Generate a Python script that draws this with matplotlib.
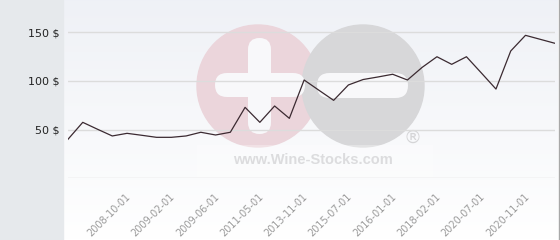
import matplotlib.pyplot as plt
import numpy as np
from matplotlib.patches import Circle, FancyBboxPatch, Rectangle
from matplotlib.transforms import ScaledTranslation

# price history (34 points)
prices = [40.1, 57.5, 50.4, 43.5, 46.2, 44.2, 42.1, 42.1, 43.5, 47.3,
          44.5, 47.3, 72.9, 57.5, 74.3, 61.6, 101.0, 90.5, 80.1, 95.9,
          101.5, 104.1, 106.9, 101.0, 114.0, 124.9, 117.1, 124.9, 108.4, 91.7,
          130.8, 146.9, 142.8, 138.7]
date_labels = ["2008-10-01", "2009-02-01", "2009-06-01", "2011-05-01", "2013-11-01",
               "2015-07-01", "2016-01-01", "2018-02-01", "2020-07-01", "2020-11-01"]
y_ticks = [50, 100, 150]

W, H = 560, 240
fig = plt.figure(figsize=(W / 100, H / 100), dpi=100)

# background: grey left strip + soft vertical gradient
bg = fig.add_axes([0, 0, 1, 1], zorder=0)
bg.set_xlim(0, W)
bg.set_ylim(H, 0)
bg.axis("off")
top = np.array([0.937, 0.945, 0.965])
bot = np.array([1.0, 1.0, 1.0])
t = np.linspace(0, 1, 240)[:, None, None]
grad = top * (1 - t) + bot * t
grad = np.repeat(grad, 2, axis=1)
bg.imshow(grad, extent=(64, 558, H, 0), aspect="auto", zorder=0)
bg.add_patch(Rectangle((0, 0), 63, H, color="#e6e9ec", zorder=1))
bg.plot([559, 559], [0, H], color="#a8a8a8", lw=1, zorder=2)

# watermark logo
bg.add_patch(Circle((258, 86), 61, color="#ebd5db", zorder=2))
bg.add_patch(Circle((363, 86), 61, color="#d7d7d9", zorder=3))
for x0, y0, w, h in [(248, 38, 23, 96), (215, 73, 90, 24), (317, 73, 91, 25)]:
    r = min(w, h) / 2
    bg.add_patch(FancyBboxPatch((x0 + r, y0 + r), w - 2 * r, h - 2 * r,
                                boxstyle="round,pad=%g" % r,
                                fc="#f8f8fa", ec="none", zorder=4))
bg.add_patch(Rectangle((197, 145), 236, 32, fc="white", ec="none", alpha=0.3, zorder=4))
bg.text(313, 160, "www.Wine-Stocks.com", fontsize=10.5, fontweight="bold",
        family="Liberation Sans", color="#dcdcde", ha="center", va="center", zorder=5)
bg.text(413, 138, "®", fontsize=13, color="#d5d5d7", ha="center", va="center", zorder=5)

# main chart
ax = fig.add_axes([68 / W, (H - 178.3) / H, (555 - 68) / W, 178.3 / H], zorder=1)
ax.patch.set_alpha(0)
x = np.arange(len(prices))
ax.plot(x, prices, color="#3b2a31", lw=0.9, zorder=3)
ax.set_xlim(0, len(prices) - 1)
ax.set_ylim(0, 183.2)
for v in [0] + y_ticks:
    ax.axhline(v, color="#dcdcdc", lw=1, zorder=1)
for s in ax.spines.values():
    s.set_visible(False)

ax.set_yticks(y_ticks)
ax.set_yticklabels(["%d $" % v for v in y_ticks], fontsize=8, color="#222222")
ax.tick_params(axis="y", length=0, pad=6)

ax.set_xticks(x[4::3])
ax.set_xticklabels(date_labels, rotation=45, ha="right", va="center",
                   rotation_mode="anchor", fontsize=7, color="#9a9a9a")
ax.tick_params(axis="x", length=0, pad=12)
for lbl in ax.get_xticklabels():
    lbl.set_transform(lbl.get_transform() + ScaledTranslation(2 / 100, 0, fig.dpi_scale_trans))

fig.savefig("out.png", dpi=100)
